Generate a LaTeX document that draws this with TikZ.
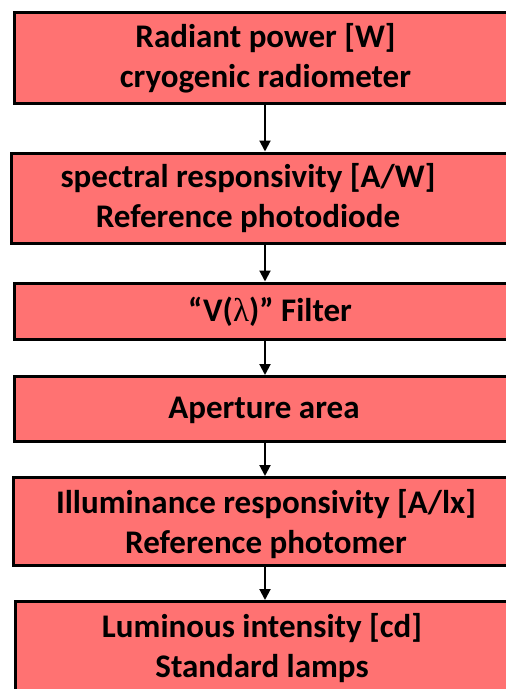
\documentclass[tikz,border=0pt]{standalone}
\usepackage{fontspec}
\setmainfont{Carlito}
\newfontfamily\lambdafont{Liberation Serif}
\usetikzlibrary{arrows.meta}
\definecolor{boxred}{RGB}{255,114,114}
\begin{document}
\begin{tikzpicture}[x=1pt,y=-1pt,
  flowbox/.style={draw=black, line width=3pt, fill=boxred, inner sep=0pt, rectangle},
  flowtext/.style={font=\fontsize{33}{40}\selectfont\bfseries, inner sep=0pt, anchor=base},
  flowarrow/.style={line width=2pt, -{Triangle[width=11pt,length=11pt]}}]
\useasboundingbox (0,0) rectangle (506,689);
\clip (0,0) rectangle (506,689);
% boxes
\node[flowbox, minimum width=502pt, minimum height=91.5pt] (b1) at (265,57.75) {};
\node[flowbox, minimum width=508pt, minimum height=90.5pt] (b2) at (265,198.25) {};
\node[flowbox, minimum width=502pt, minimum height=56.5pt] (b3) at (265,311.25) {};
\node[flowbox, minimum width=502pt, minimum height=65pt] (b4) at (265,409) {};
\node[flowbox, minimum width=504pt, minimum height=88pt] (b5) at (265,521.5) {};
\node[flowbox, minimum width=499pt, minimum height=90.5pt] (b6) at (265,646.75) {};
% texts
\node[flowtext] (t1a) at (265.5,47.7) {Radiant power [W]};
\node[flowtext] (t1b) at (265.5,87.3) {cryogenic radiometer};
\node[flowtext] (t2a) at (248,187) {spectral responsivity [A/W]};
\node[flowtext] (t2b) at (248,227) {Reference photodiode};
\node[flowtext] (t3) at (270,321) {“V({\lambdafont\mdseries λ})” Filter};
\node[flowtext] (t4) at (264,418.3) {Aperture area};
\node[flowtext] (t5a) at (266,513) {Illuminance responsivity [A/lx]};
\node[flowtext] (t5b) at (266,553) {Reference photomer};
\node[flowtext] (t6a) at (262,637.5) {Luminous intensity [cd]};
\node[flowtext] (t6b) at (262,677.5) {Standard lamps};
% arrows
\draw[flowarrow] (b1.south) -- (b2.north);
\draw[flowarrow] (b2.south) -- (b3.north);
\draw[flowarrow] (b3.south) -- (b4.north);
\draw[flowarrow] (b4.south) -- (b5.north);
\draw[flowarrow] (b5.south) -- (b6.north);
\end{tikzpicture}
\end{document}
